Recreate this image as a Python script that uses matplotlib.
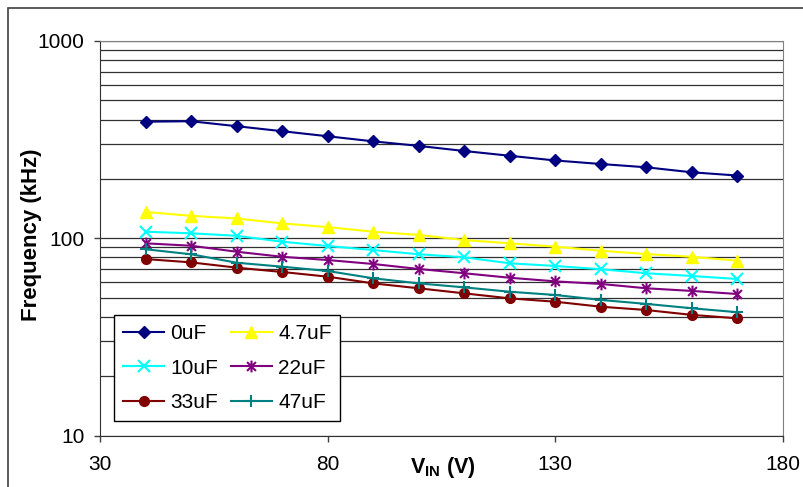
from __future__ import annotations

import matplotlib

matplotlib.use("Agg")
import matplotlib.pyplot as plt
from matplotlib.patches import Rectangle
from matplotlib.path import Path

plt.rcParams["font.family"] = ["Liberation Sans", "DejaVu Sans"]
plt.rcParams["mathtext.fontset"] = "custom"
plt.rcParams["mathtext.rm"] = "Liberation Sans"
plt.rcParams["mathtext.bf"] = "Liberation Sans:bold"

# input voltage (V)
vin = [40, 50, 60, 70, 80, 90, 100, 110, 120, 130, 140, 150, 160, 170]

# switching frequency (kHz) for each output capacitance
freq_0uf = [390, 392, 370, 349, 329, 310, 294, 277, 262, 248, 238, 229, 216, 208]
freq_4u7f = [136, 130, 126, 119, 114, 108, 104, 98, 94.3, 90.7, 86.5, 83.2, 80.6, 77.0]
freq_10uf = [108, 106, 103, 96.1, 91.4, 87.2, 83.0, 80.1, 74.7, 72.4, 69.7, 66.5, 64.4, 62.2]
freq_22uf = [94.3, 91.7, 85.5, 80.6, 77.6, 74.1, 69.9, 66.5, 63.1, 60.5, 58.7, 55.8, 54.1, 52.2]
freq_33uf = [78.5, 75.5, 71.0, 67.5, 63.9, 59.1, 55.8, 52.6, 49.6, 47.7, 45.0, 43.3, 40.9, 39.3]
freq_47uf = [88.0, 83.0, 75.2, 71.8, 68.3, 62.7, 59.1, 56.4, 53.6, 51.6, 48.7, 46.5, 44.2, 42.2]

series_labels = ["0uF", "4.7uF", "10uF", "22uF", "33uF", "47uF"]
x_ticks = [30, 80, 130, 180]
y_ticks = [10, 100, 1000]

# excel style asterisk: a cross with a vertical bar
ASTERISK = Path(
    [(0, -1), (0, 1), (-0.75, -0.75), (0.75, 0.75), (-0.75, 0.75), (0.75, -0.75)],
    [Path.MOVETO, Path.LINETO] * 3,
)

STYLES = {
    "0uF": dict(color="#000080", marker="D", ms=6.5),
    "4.7uF": dict(color="#ffff00", marker="^", ms=9),
    "10uF": dict(color="#00ffff", marker="x", ms=8, mew=1.5),
    "22uF": dict(color="#800080", marker=ASTERISK, ms=8.5, mew=1.5, mfc="none"),
    "33uF": dict(color="#800000", marker="o", ms=7),
    "47uF": dict(color="#008080", marker="+", ms=9, mew=1.5),
}


def main() -> None:
    fig = plt.figure(figsize=(8.04, 4.87), dpi=100)
    W, H = 804, 487
    left, right, top, bottom = 100, 783, 41, 435.6
    ax = fig.add_axes([left / W, 1 - bottom / H, (right - left) / W, (bottom - top) / H])

    # chart area border (runs off the right and bottom of the picture)
    fig.add_artist(
        Rectangle((8 / W, -0.5), 1.5, 1 - 8 / H + 0.5, transform=fig.transFigure,
                  fill=False, edgecolor="#404040", lw=1.2)
    )

    series = [freq_0uf, freq_4u7f, freq_10uf, freq_22uf, freq_33uf, freq_47uf]
    lines = {}
    for label, values in zip(series_labels, series):
        st = STYLES[label]
        (ln,) = ax.plot(vin, values, lw=1.5, label=label, clip_on=False, **st)
        lines[label] = ln

    ax.set_yscale("log")
    ax.set_xlim(30, 180)
    ax.set_ylim(10, 1000)
    ax.set_xticks(x_ticks)
    ax.set_xticklabels([str(v) for v in x_ticks])
    ax.set_yticks(y_ticks)
    ax.set_yticklabels([str(v) for v in y_ticks])
    ax.tick_params(which="major", direction="out", length=4, width=1, labelsize=15, color="#404040")
    ax.tick_params(axis="x", pad=10)
    ax.tick_params(axis="y", pad=7)
    ax.tick_params(which="minor", length=0)
    ax.grid(True, which="both", axis="y", color="#303030", lw=0.9)
    ax.set_axisbelow(True)

    for side in ("top", "right"):
        ax.spines[side].set_color("#808080")
    for side in ("left", "bottom"):
        ax.spines[side].set_color("#303030")

    ax.text(0.5015, -0.082, r"$\mathbf{V}_{\mathbf{IN}}$ (V)", transform=ax.transAxes,
            ha="center", va="center", fontsize=15.5, fontweight="bold")
    ax.text(-0.1010, 0.51, "Frequency (kHz)", transform=ax.transAxes, rotation=90,
            ha="center", va="center", fontsize=16, fontweight="bold")

    order = ["0uF", "10uF", "33uF", "4.7uF", "22uF", "47uF"]
    leg = ax.legend(
        [lines[k] for k in order], order,
        loc="lower left", bbox_to_anchor=(0.0205, 0.037), borderaxespad=0,
        ncol=2, fontsize=15, frameon=True, fancybox=False, framealpha=1,
        edgecolor="black", handlelength=2.0, handletextpad=0.28,
        columnspacing=0.6, labelspacing=0.75, borderpad=0.42,
    )
    leg.get_frame().set_linewidth(1)

    fig.savefig("out.png", dpi=100)
    plt.close(fig)


if __name__ == "__main__":
    main()
